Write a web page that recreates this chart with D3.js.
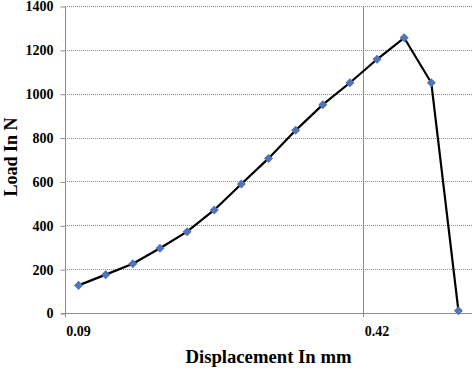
<!DOCTYPE html>
<html>
<head>
<meta charset="utf-8">
<script src="https://cdn.jsdelivr.net/npm/d3@7"></script>
<style>
  html, body { margin: 0; padding: 0; background: #fff; }
  svg { display: block; }
  text { font-family: "Liberation Serif", "Times New Roman", serif !important; font-weight: bold; fill: #000; }
</style>
</head>
<body>
<script>
// Data
const displacement = ["0.09","0.12","0.15","0.18","0.21","0.24","0.27","0.30","0.33","0.36","0.39","0.42","0.45","0.48","0.51"];
const load = [126, 175, 225, 295, 371, 470, 588, 705, 833, 950, 1050, 1157, 1255, 1050, 10];
const yTicks = [0, 200, 400, 600, 800, 1000, 1200, 1400];
const xLabelTicks = ["0.09", "0.42"];
const xGridCats = ["0.42"];

const W = 474, H = 369;
const margin = { left: 65, right: 2, top: 6, bottom: 56 };

const svg = d3.select("body").append("svg").attr("width", W).attr("height", H);

const x = d3.scaleBand().domain(displacement).range([margin.left, W - margin.right]).padding(0);
const y = d3.scaleLinear().domain([0, 1400]).range([H - margin.bottom, margin.top]);

const gridColor = "#8c8c8c";

// horizontal gridlines (dotted)
svg.append("g").selectAll("line").data(yTicks.filter(d => d > 0)).join("line")
  .attr("x1", margin.left).attr("x2", W - margin.right)
  .attr("y1", d => Math.round(y(d)) + 0.5).attr("y2", d => Math.round(y(d)) + 0.5)
  .attr("stroke", gridColor).attr("stroke-width", 1).attr("stroke-dasharray", "1,1");

// vertical gridline at category boundary
svg.append("g").selectAll("line").data(xGridCats).join("line")
  .attr("x1", d => Math.round(x(d)) + 0.5).attr("x2", d => Math.round(x(d)) + 0.5)
  .attr("y1", margin.top).attr("y2", y(0) + 4)
  .attr("stroke", gridColor).attr("stroke-width", 1);

// Y axis
const yAxis = d3.axisLeft(y).tickValues(yTicks).tickFormat(d3.format("d")).tickSize(5).tickPadding(7);
const gy = svg.append("g").attr("transform", `translate(${margin.left + 0.5},0.5)`).call(yAxis);
gy.attr("font-family", null);
gy.select(".domain").attr("stroke", gridColor).attr("d", `M0,${y(1400)}V${y(0) + 4}`);
gy.selectAll(".tick line").attr("stroke", gridColor);
gy.selectAll(".tick text").style("font-size", "14px").attr("fill", "#000");

// X axis
const xAxis = d3.axisBottom(x).tickValues(xLabelTicks).tickSize(0).tickPadding(13);
const gx = svg.append("g").attr("transform", `translate(0,${Math.round(y(0)) + 0.5})`).call(xAxis);
gx.attr("font-family", null);
gx.select(".domain").attr("stroke", gridColor).attr("d", `M${margin.left - 4},0H${W - margin.right}`);
gx.selectAll(".tick text").style("font-size", "14px").attr("fill", "#000");

// Line
const line = d3.line().x((d, i) => x(displacement[i]) + x.bandwidth() / 2).y(d => y(d));
svg.append("path").datum(load).attr("d", line)
  .attr("fill", "none").attr("stroke", "#000").attr("stroke-width", 2.2);

// Markers (diamonds)
const sym = d3.symbol().type(d3.symbolDiamond2).size(52);
svg.append("g").selectAll("path").data(load).join("path")
  .attr("transform", (d, i) => `translate(${x(displacement[i]) + x.bandwidth() / 2},${y(d)})`)
  .attr("d", sym)
  .attr("fill", "#4f74b8");

// Axis titles
svg.append("text").attr("x", (margin.left + W - margin.right) / 2).attr("y", 363)
  .attr("text-anchor", "middle").style("font-size", "18.7px").text("Displacement In mm");
svg.append("text").attr("transform", "translate(17,157) rotate(-90)")
  .attr("text-anchor", "middle").style("font-size", "18px").text("Load In N");
</script>
</body>
</html>
